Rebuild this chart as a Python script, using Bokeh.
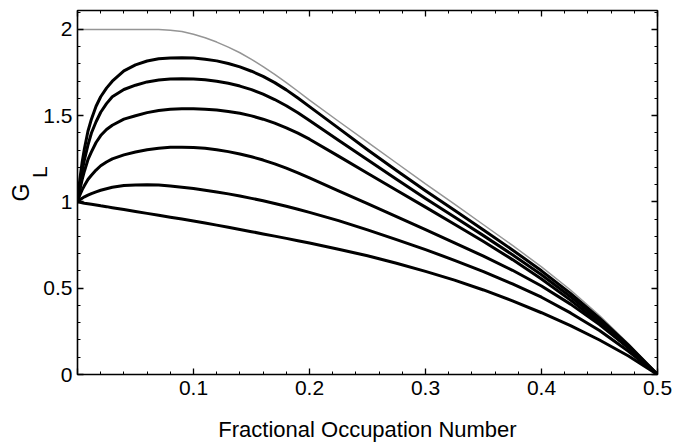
from bokeh.plotting import figure
from bokeh.models import Range1d, FixedTicker, LinearAxis
from bokeh.embed import file_html
from bokeh.resources import INLINE

# ---------------- data ----------------
occupation = [0, .002, .004, .006, .009, .012, .016, .02, .025, .03, .04, .05, .06, .07, .08, .09,
              .10, .11, .12, .13, .14, .15, .16, .17, .18, .19, .20,
              .225, .25, .275, .30, .325, .35, .375, .40, .425, .45, .475, .50]

g_upper = [2.0, 2.0, 2.0, 2.0, 2.0, 2.0, 2.0, 2.0, 2.0, 2.0, 2.0, 2.0, 2.0, 2.0, 1.996, 1.988,
           1.972, 1.952, 1.927, 1.898, 1.865, 1.827, 1.785, 1.74, 1.692, 1.642, 1.59,
           1.468, 1.347, 1.226, 1.105, 0.987, 0.868, 0.748, 0.624, 0.49, 0.342, 0.178, 0.0]
g_1 = [1.0, 1.13, 1.23, 1.31, 1.41, 1.48, 1.555, 1.61, 1.66, 1.70, 1.76, 1.795, 1.817, 1.83, 1.835, 1.836,
       1.834, 1.828, 1.818, 1.803, 1.783, 1.758, 1.728, 1.692, 1.65, 1.603, 1.553,
       1.428, 1.303, 1.182, 1.065, 0.952, 0.838, 0.722, 0.601, 0.47, 0.327, 0.171, 0.0]
g_2 = [1.0, 1.1, 1.18, 1.245, 1.33, 1.40, 1.465, 1.52, 1.57, 1.61, 1.652, 1.677, 1.696, 1.707, 1.713, 1.715,
       1.713, 1.708, 1.70, 1.688, 1.672, 1.651, 1.625, 1.594, 1.558, 1.517, 1.472,
       1.358, 1.245, 1.132, 1.02, 0.913, 0.805, 0.694, 0.578, 0.451, 0.313, 0.163, 0.0]
g_3 = [1.0, 1.07, 1.13, 1.18, 1.245, 1.29, 1.345, 1.385, 1.42, 1.445, 1.48, 1.50, 1.518, 1.53, 1.537, 1.54,
       1.54, 1.538, 1.533, 1.525, 1.514, 1.499, 1.48, 1.457, 1.43, 1.399, 1.364,
       1.266, 1.167, 1.068, 0.97, 0.871, 0.771, 0.666, 0.554, 0.431, 0.298, 0.155, 0.0]
g_4 = [1.0, 1.04, 1.07, 1.095, 1.13, 1.155, 1.185, 1.21, 1.232, 1.25, 1.273, 1.29, 1.303, 1.312, 1.317, 1.318,
       1.316, 1.311, 1.303, 1.292, 1.278, 1.262, 1.243, 1.221, 1.196, 1.169, 1.14,
       1.065, 0.99, 0.915, 0.84, 0.763, 0.686, 0.604, 0.513, 0.408, 0.289, 0.155, 0.0]
g_5 = [1.0, 1.012, 1.022, 1.03, 1.04, 1.049, 1.059, 1.068, 1.077, 1.085, 1.095, 1.099, 1.10, 1.098, 1.093, 1.086,
       1.078, 1.068, 1.058, 1.047, 1.035, 1.021, 1.007, 0.991, 0.975, 0.958, 0.94,
       0.892, 0.838, 0.782, 0.724, 0.662, 0.596, 0.525, 0.448, 0.357, 0.255, 0.135, 0.0]
g_6 = [1.0, 0.998, 0.996, 0.993, 0.99, 0.987, 0.983, 0.978, 0.973, 0.967, 0.956, 0.945, 0.934, 0.923, 0.912, 0.901,
       0.89, 0.878, 0.866, 0.8535, 0.841, 0.828, 0.815, 0.802, 0.789, 0.7755, 0.762,
       0.726, 0.688, 0.645, 0.598, 0.547, 0.49, 0.427, 0.358, 0.283, 0.2, 0.107, 0.0]

x_major = [0, 0.1, 0.2, 0.3, 0.4, 0.5]
x_minor = [round(0.02 * i, 2) for i in range(26)]
y_major = [0, 0.5, 1, 1.5, 2]
y_minor = [round(0.1 * i, 1) for i in range(22)]
x_labels = {0: "", 0.1: "0.1", 0.2: "0.2", 0.3: "0.3", 0.4: "0.4", 0.5: "0.5"}
y_labels = {0: "0", 0.5: "0.5", 1: "1", 1.5: "1.5", 2: "2"}
x_title = "Fractional Occupation Number"
y_title_main = "G"
y_title_sub = "L"

FONT = "Liberation Sans"

p = figure(width=678, height=448, output_backend="svg", toolbar_location=None,
           x_range=Range1d(0, 0.5), y_range=Range1d(0, 2.11),
           min_border_left=77, min_border_right=21, min_border_top=10, min_border_bottom=74)
p.background_fill_color = "white"
p.border_fill_color = "white"
p.outline_line_color = "black"
p.outline_line_width = 1.6
p.grid.visible = False


def style_axis(ax, ticks, minor, labels, show):
    ax.ticker = FixedTicker(ticks=ticks, minor_ticks=minor)
    ax.axis_line_color = None
    ax.major_tick_in = 6
    ax.major_tick_out = 0
    ax.minor_tick_in = 3
    ax.minor_tick_out = 0
    ax.major_tick_line_width = 1.3
    ax.minor_tick_line_width = 1.0
    ax.major_tick_line_color = "black"
    ax.minor_tick_line_color = "black"
    if show:
        ax.major_label_overrides = labels
        ax.major_label_text_font = FONT
        ax.major_label_text_font_size = "21px"
        ax.major_label_text_color = "black"
    else:
        ax.major_label_overrides = {t: "" for t in ticks}
        ax.major_label_text_font_size = "0px"
        ax.major_label_standoff = 0


style_axis(p.xaxis[0], x_major, x_minor, x_labels, True)
p.xaxis[0].major_label_standoff = 6
p.xaxis[0].axis_label = x_title
p.xaxis[0].axis_label_text_font = FONT
p.xaxis[0].axis_label_text_font_size = "22px"
p.xaxis[0].axis_label_text_font_style = "normal"
p.xaxis[0].axis_label_text_color = "black"
p.xaxis[0].axis_label_standoff = 19

style_axis(p.yaxis[0], y_major, y_minor, y_labels, True)
p.yaxis[0].major_label_standoff = 5
# subscript "L" of G_L, sitting next to the main letter
p.yaxis[0].axis_label = "\u00a0" * 7 + y_title_sub
p.yaxis[0].axis_label_text_font = FONT
p.yaxis[0].axis_label_text_font_size = "21px"
p.yaxis[0].axis_label_text_font_style = "normal"
p.yaxis[0].axis_label_text_color = "black"
p.yaxis[0].axis_label_standoff = -11

g_axis = LinearAxis(ticker=FixedTicker(ticks=[]), axis_label=y_title_main)
g_axis.axis_line_color = None
g_axis.major_tick_line_color = None
g_axis.minor_tick_line_color = None
g_axis.major_label_standoff = 0
g_axis.major_label_text_font_size = "0px"
g_axis.axis_label_text_font = FONT
g_axis.axis_label_text_font_size = "23px"
g_axis.axis_label_text_font_style = "normal"
g_axis.axis_label_text_color = "black"
g_axis.axis_label_standoff = -8
p.add_layout(g_axis, "left")

top = LinearAxis()
style_axis(top, x_major, x_minor, x_labels, False)
p.add_layout(top, "above")
right = LinearAxis()
style_axis(right, y_major, y_minor, y_labels, False)
p.add_layout(right, "right")

p.line(occupation, g_upper, line_color="#959595", line_width=1.5)
for g in (g_1, g_2, g_3, g_4, g_5, g_6):
    p.line(occupation, g, line_color="black", line_width=3, line_join="round")

open("out.html", "w").write(file_html(p, INLINE))
